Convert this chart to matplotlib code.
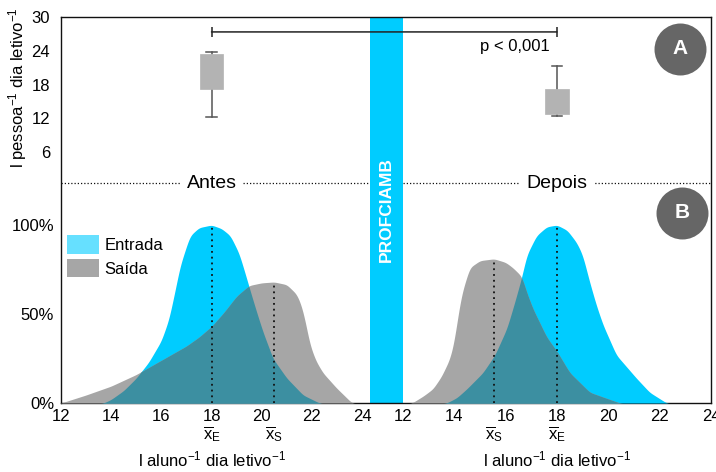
import numpy as np
import matplotlib
matplotlib.use('Agg')
import matplotlib.pyplot as plt
from matplotlib.patches import Patch, ConnectionPatch

plt.rcParams['font.family'] = ['Liberation Sans', 'DejaVu Sans']
plt.rcParams['mathtext.fontset'] = 'custom'
plt.rcParams['mathtext.rm'] = 'Liberation Sans'
plt.rcParams['mathtext.it'] = 'Liberation Sans:italic'
plt.rcParams['mathtext.bf'] = 'Liberation Sans:bold'

# ---------------- data ----------------
# Panel A: boxplots (l pessoa^-1 dia letivo^-1)
box_labels = ['Antes', 'Depois']
box_q1 = [17.2, 12.8]
box_q3 = [23.5, 17.2]
box_whislo = [12.2, 12.5]
box_whishi = [23.8, 21.3]
box_med = [20.0, 15.0]
p_text = 'p < 0,001'

# Panel B: distributions (% of max), Antes
antes_ent_x = [13.7, 14.0, 14.5, 15.0, 15.5, 16.0, 16.3, 16.5, 16.75, 17.0, 17.15, 17.5,
               18.0, 18.4, 18.75, 19.1, 19.4, 19.5, 19.8, 20.05, 20.45, 21.0, 21.65, 22.3]
antes_ent_y = [0, 2, 7, 14, 23, 35, 47, 60, 77, 88, 94, 98.5,
               100, 98, 94, 84, 70, 65, 51, 40, 25, 14, 4.5, 0]
antes_sai_x = [12.0, 13.0, 14.0, 15.0, 16.0, 17.0, 17.5, 18.0, 18.5, 19.0, 19.5, 20.0,
               20.5, 21.0, 21.4, 21.6, 21.75, 21.92, 22.15, 22.44, 22.98, 23.6]
antes_sai_y = [0, 4.5, 9.5, 16, 24, 32, 37, 43, 51, 60, 66, 67.5,
               68, 66.5, 61, 54, 45, 33, 24, 17, 8.5, 0]
# Depois
depois_ent_x = [13.7, 14.1, 14.49, 15.11, 15.58, 16.05, 16.36, 16.63, 16.82, 17.2, 17.6,
                18.0, 18.4, 18.77, 19.0, 19.27, 19.53, 19.79, 20.31, 21.09, 21.61, 22.27]
depois_ent_y = [0, 3, 8, 17, 27, 42, 57, 71, 83, 94, 99,
                100, 97, 90, 83, 68, 55, 44, 27, 14, 6, 0]
depois_sai_x = [12.35, 12.8, 13.17, 13.5, 13.83, 14.0, 14.14, 14.3, 14.6, 15.0, 15.55,
                16.0, 16.28, 16.63, 16.81, 17.06, 17.6, 18.0, 18.5, 19.28, 20.45]
depois_sai_y = [0, 4, 8, 15, 25, 35, 49, 62, 76, 80, 81,
                79, 76, 71, 62.5, 53, 37, 29, 17, 6, 0]
# means
antes_mean_ent, antes_mean_sai = 18.0, 20.5
depois_mean_ent, depois_mean_sai = 18.0, 15.55

x_ticks = [12, 14, 16, 18, 20, 22, 24]
pct_ticks = [0, 50, 100]
pct_labels = ['0%', '50%', '100%']
topy_ticks = [6, 12, 18, 24, 30]

C_ENT = '#00CCFF'
C_SAI = '#A6A6A6'
C_OVL = '#3C8FA1'
C_ENT_LEG = '#66E0FF'

# ---------------- layout ----------------
W, H = 716, 472
fig = plt.figure(figsize=(W / 100, H / 100), dpi=100)


def px_axes(x0, ytop, x1, ybot, **kw):
    return fig.add_axes([x0 / W, 1 - ybot / H, (x1 - x0) / W, (ybot - ytop) / H], **kw)


FL, FR, FT, FB = 61, 711, 17, 403
MID_L, MID_R = 370, 403
SPLIT = 186

frame = px_axes(FL, FT, FR, FB)
frame.set_xlim(0, 1)
frame.set_ylim(0, 1)
frame.set_xticks([])
frame.set_yticks([])
for s in frame.spines.values():
    s.set_linewidth(1.0)
    s.set_color('#111111')
# PROFCIAMB bar
bx0 = (MID_L - FL) / (FR - FL)
bx1 = (MID_R - FL) / (FR - FL)
frame.axvspan(bx0, bx1, color=C_ENT, lw=0, zorder=0.5)
frame.text((bx0 + bx1) / 2, (FB - 210) / (FB - FT), 'PROFCIAMB', rotation=90,
           color='white', fontsize=12.5, fontweight='bold', ha='center', va='center')
# circles
for lab, cx, cy in [('A', 680, 49), ('B', 682, 213)]:
    fx = (cx - FL) / (FR - FL)
    fy = (FB - cy) / (FB - FT)
    frame.scatter([fx], [fy], s=1400, color='#666666', transform=frame.transAxes,
                  zorder=5, lw=0)
    frame.text(fx, fy, lab, color='white', fontsize=15, fontweight='bold',
               ha='center', va='center', transform=frame.transAxes, zorder=6)

# bottom axes
axBL = px_axes(FL, SPLIT, MID_L, FB)
axBR = px_axes(MID_R, SPLIT, FR, FB)
axBL.set_xlim(12, 24 + (MID_L - FL - 301) / 25.1)
axBR.set_xlim(12, 24)
for ax in (axBL, axBR):
    ax.set_ylim(0, (FB - SPLIT) / 1.78)
    ax.patch.set_visible(False)
    for s in ax.spines.values():
        s.set_visible(False)
    ax.set_xticks(x_ticks)
    ax.tick_params(axis='x', length=0, pad=4, labelsize=12)
axBL.set_yticks(pct_ticks)
axBL.set_yticklabels(pct_labels)
axBL.tick_params(axis='y', length=0, pad=5, labelsize=12)
axBR.set_yticks([])

grid = np.linspace(11, 25, 1401)
kern = np.hanning(41)
kern /= kern.sum()


def curve(xs, ys):
    c = np.interp(grid, xs, ys, left=0, right=0)
    return np.convolve(c, kern, mode='same')


def draw_panel(ax, ex, ey, sx, sy, m_ent, m_sai):
    e = curve(ex, ey)
    s = curve(sx, sy)
    ax.fill_between(grid, 0, e, color=C_ENT, lw=0, zorder=1)
    ax.fill_between(grid, 0, s, color=C_SAI, lw=0, zorder=1.1)
    ax.fill_between(grid, 0, np.minimum(e, s), color=C_OVL, lw=0, zorder=1.2)
    ax.vlines([m_ent], 0, [np.interp(m_ent, grid, e)], colors='#111111',
              linestyles=(0, (1, 2.2)), lw=1.3, zorder=3)
    ax.vlines([m_sai], 0, [np.interp(m_sai, grid, s)], colors='#111111',
              linestyles=(0, (1, 2.2)), lw=1.3, zorder=3)
    for xm, lab in [(m_ent, 'E'), (m_sai, 'S')]:
        ax.annotate(r'$\overline{\mathrm{x}}_{\mathrm{%s}}$' % lab, xy=(xm, 0),
                    xycoords=('data', 'axes fraction'), xytext=(0, -15),
                    textcoords='offset points', ha='center', va='top', fontsize=12)
    ax.annotate(r'l aluno$^{-1}$ dia letivo$^{-1}$', xy=(18, 0),
                xycoords=('data', 'axes fraction'), xytext=(0, -46),
                textcoords='offset points', ha='center', va='baseline', fontsize=12)


draw_panel(axBL, antes_ent_x, antes_ent_y, antes_sai_x, antes_sai_y,
           antes_mean_ent, antes_mean_sai)
draw_panel(axBR, depois_ent_x, depois_ent_y, depois_sai_x, depois_sai_y,
           depois_mean_ent, depois_mean_sai)

leg = axBL.legend(handles=[Patch(facecolor=C_ENT_LEG, lw=0, label='Entrada'),
                           Patch(facecolor=C_SAI, lw=0, label='Saída')],
                  loc='upper left', bbox_to_anchor=((67 - FL) / (MID_L - FL), (FB - 235) / (FB - SPLIT)),
                  frameon=False, borderpad=0, borderaxespad=0, fontsize=12,
                  handlelength=1.95, handleheight=1.35, handletextpad=0.3,
                  labelspacing=0.3)

# top axes
axTL = px_axes(FL, FT, MID_L, SPLIT)
axTR = px_axes(MID_R, FT, FR, SPLIT)
axTL.set_xlim(axBL.get_xlim())
axTR.set_xlim(axBR.get_xlim())
for i, ax in enumerate((axTL, axTR)):
    stats = [dict(q1=box_q1[i], q3=box_q3[i], whislo=box_whislo[i], whishi=box_whishi[i],
                  med=box_med[i], label=box_labels[i])]
    ax.bxp(stats, positions=[18], widths=0.92, capwidths=0.42, patch_artist=True,
           showfliers=False, manage_ticks=False,
           boxprops=dict(facecolor='#B3B3B3', edgecolor='#B3B3B3', lw=0.5, zorder=3),
           whiskerprops=dict(color='#555555', lw=1.1, zorder=2),
           capprops=dict(color='#555555', lw=1.1, zorder=2),
           medianprops=dict(lw=0))
    ax.set_ylim(0, 30)
    ax.patch.set_visible(False)
    for s in ax.spines.values():
        s.set_visible(False)
    ax.set_xticks([])
    ax.axhline((SPLIT - 183) / (SPLIT - FT) * 30, color='#111111',
               linestyle=(0, (1, 1.6)), lw=0.9, zorder=1)
    ax.text(18, (SPLIT - 183) / (SPLIT - FT) * 30, box_labels[i], fontsize=14,
            ha='center', va='center', zorder=4,
            bbox=dict(boxstyle='square,pad=0.35', fc='white', ec='none'))
    ax.vlines([18], 26.5, 28.2, colors='#222222', lw=1.1)
axTL.set_yticks(topy_ticks)
axTL.tick_params(axis='y', length=0, pad=8, labelsize=12)
axTR.set_yticks([])

con = ConnectionPatch(xyA=(18, 27.35), coordsA=axTL.transData,
                      xyB=(18, 27.35), coordsB=axTR.transData,
                      color='#222222', lw=1.1, zorder=10)
fig.add_artist(con)
axTR.text(17.72, 24.7, p_text, fontsize=12, ha='right', va='center')

fig.text(18 / W, 1 - 88 / H, r'l pessoa$^{-1}$ dia letivo$^{-1}$', rotation=90,
         ha='center', va='center', fontsize=12)

fig.savefig('out.png', dpi=100)
